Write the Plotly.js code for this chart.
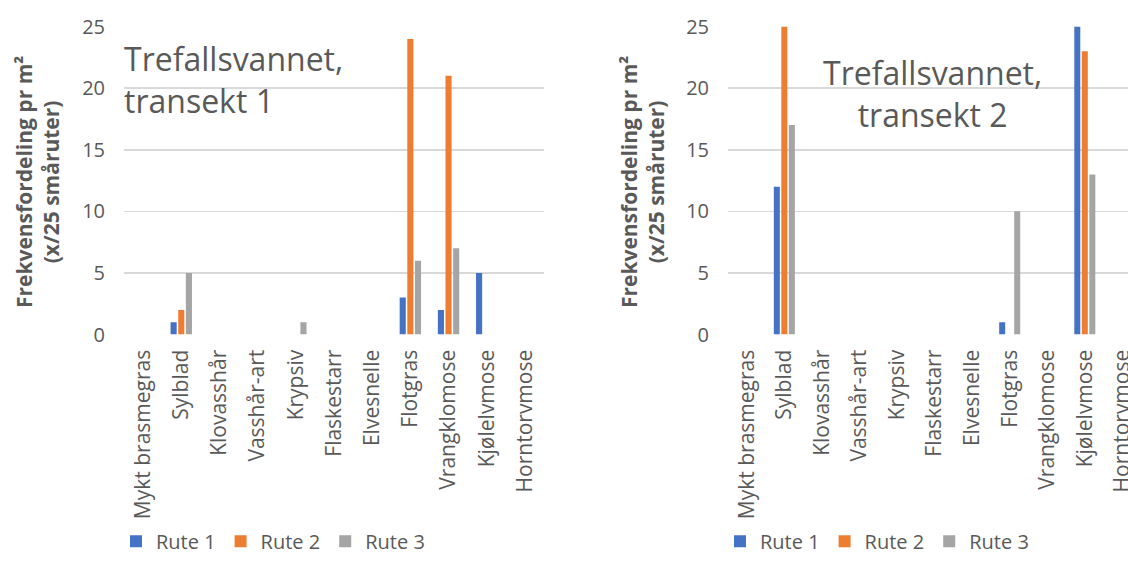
<!DOCTYPE html>
<html><head><meta charset="utf-8">
<script src="https://cdn.plot.ly/plotly-3.0.1.min.js"></script>
<style>html,body{margin:0;padding:0;background:#fff}#chart{width:1128px;height:561px}</style>
</head><body><div id="chart"></div>
<script>
const categories = ["Mykt brasmegras","Sylblad","Klovasshår","Vasshår-art","Krypsiv","Flaskestarr","Elvesnelle","Flotgras","Vrangklomose","Kjølelvmose","Horntorvmose"];
const seriesNames = ["Rute 1","Rute 2","Rute 3"];
const t1_rute1 = [0,1,0,0,0,0,0,3,2,5,0];
const t1_rute2 = [0,2,0,0,0,0,0,24,21,0,0];
const t1_rute3 = [0,5,0,0,1,0,0,6,7,0,0];
const t2_rute1 = [0,12,0,0,0,0,0,1,0,25,0];
const t2_rute2 = [0,25,0,0,0,0,0,0,0,23,0];
const t2_rute3 = [0,17,0,0,0,0,0,10,0,13,0];
const yTicks = [0,5,10,15,20,25];
const colors = ["#4472C4","#ED7D31","#A5A5A5"];

const FONT = "Open Sans, sans-serif";
const TXT = "#595959";
const W = 1128, H = 561;

function mk(y, i, xa, ya, lg){
  return {type:"bar", x:categories, y:y, name:seriesNames[i], marker:{color:colors[i]},
    xaxis:xa, yaxis:ya, legend:lg, hoverinfo:"skip"};
}
const data = [
  mk(t1_rute1,0,"x","y","legend"), mk(t1_rute2,1,"x","y","legend"), mk(t1_rute3,2,"x","y","legend"),
  mk(t2_rute1,0,"x2","y2","legend2"), mk(t2_rute2,1,"x2","y2","legend2"), mk(t2_rute3,2,"x2","y2","legend2")
];
const yDom = [(H-340)/H, (H-27)/H];
const xCommon = {type:"category", tickangle:-90, showgrid:false, zeroline:false, showline:false,
  ticks:"", tickfont:{family:FONT,size:21,color:TXT}, ticklabelstandoff:10, fixedrange:true};
const yCommon = {range:[0,25], tickvals:yTicks, showgrid:true, gridcolor:"#D9D9D9", gridwidth:1.5,
  zeroline:false, showline:false, ticks:"", tickfont:{family:FONT,size:20,color:TXT}, ticklabelstandoff:18};
const legCommon = {orientation:"h", xanchor:"left", y:(H-550)/H, yanchor:"middle",
  font:{family:FONT,size:20,color:TXT}, itemwidth:30, tracegroupgap:0, bgcolor:"rgba(0,0,0,0)"};
const layout = {
  width:W, height:H, margin:{l:0,r:0,t:0,b:0}, paper_bgcolor:"#fff", plot_bgcolor:"#fff",
  barmode:"group", bargap:0.4, bargroupgap:0.2, showlegend:true,
  xaxis:Object.assign({}, xCommon, {domain:[124/W, 544/W], range:[-0.5,10.5], anchor:"y"}),
  yaxis:Object.assign({}, yCommon, {domain:yDom, anchor:"x"}),
  xaxis2:Object.assign({}, xCommon, {domain:[728/W, 1], range:[-0.5,10.15], anchor:"y2"}),
  yaxis2:Object.assign({}, yCommon, {domain:yDom, anchor:"x2"}),
  legend:Object.assign({}, legCommon, {x:116/W}),
  legend2:Object.assign({}, legCommon, {x:720/W}),
  annotations:[
    {xref:"paper", yref:"paper", x:122/W, y:(H-36)/H, xanchor:"left", yanchor:"top", align:"left",
     text:"Trefallsvannet,<br>transekt 1", showarrow:false, font:{family:FONT,size:32,color:TXT}},
    {xref:"paper", yref:"paper", x:932/W, y:(H-50)/H, xanchor:"center", yanchor:"top", align:"center",
     text:"Trefallsvannet,<br>transekt 2", showarrow:false, font:{family:FONT,size:32,color:TXT}},
    {xref:"paper", yref:"paper", x:37/W, y:(H-185)/H, xanchor:"center", yanchor:"middle", textangle:-90,
     text:"<b>Frekvensfordeling pr m²<br>(x/25 småruter)</b>", showarrow:false, font:{family:FONT,size:21,color:TXT}},
    {xref:"paper", yref:"paper", x:642/W, y:(H-185)/H, xanchor:"center", yanchor:"middle", textangle:-90,
     text:"<b>Frekvensfordeling pr m²<br>(x/25 småruter)</b>", showarrow:false, font:{family:FONT,size:21,color:TXT}}
  ]
};
Plotly.newPlot("chart", data, layout, {staticPlot:true, displayModeBar:false});
</script></body></html>
